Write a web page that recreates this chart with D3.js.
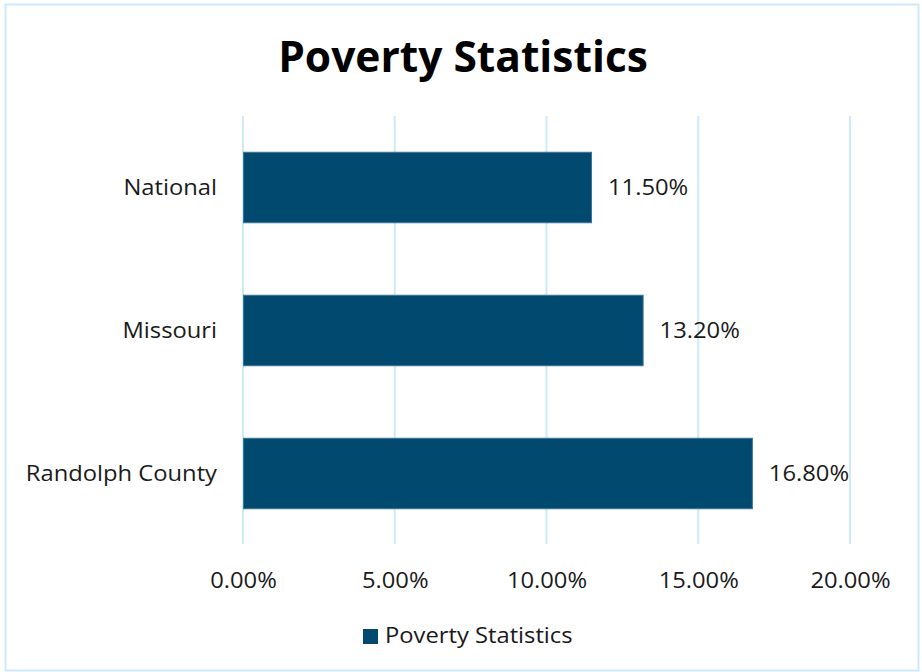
<!DOCTYPE html>
<html>
<head>
<meta charset="utf-8">
<script src="https://cdn.jsdelivr.net/npm/d3@7"></script>
<style>
  html, body { margin: 0; padding: 0; background: #ffffff; }
  svg { display: block; font-family: "Open Sans", "Noto Sans", sans-serif; }
</style>
</head>
<body>
<svg id="chart" width="922" height="672"></svg>
<script>
// Poverty rates by area
const categories = ["National", "Missouri", "Randolph County"];
const povertyRates = [11.5, 13.2, 16.8];
const xTicks = [0, 5, 10, 15, 20];
const seriesName = "Poverty Statistics";
const chartTitle = "Poverty Statistics";

const W = 922, H = 672;
const plot = { left: 243, right: 850, top: 116, bottom: 545 };
const barColor = "#02496f";
const gridColor = "#cdeaf8";
const textColor = "#1a1a1a";
const stretch = 1.08; // label text is set slightly wide

// widen a text element horizontally about its anchor point (ax, ay)
function widen(sel, ax, ay) {
  sel.attr("transform", function(d, i) {
    const px = typeof ax === "function" ? ax(d, i) : ax;
    const py = typeof ay === "function" ? ay(d, i) : ay;
    return `translate(${px},${py}) scale(${stretch},1) translate(${-px},${-py})`;
  });
}

const svg = d3.select("#chart");

// outer frame
svg.append("rect")
  .attr("x", 5.5).attr("y", 4.5)
  .attr("width", W - 9).attr("height", H - 6)
  .attr("fill", "#ffffff")
  .attr("stroke", "#cde9f9").attr("stroke-width", 2);

// title
svg.append("text")
  .attr("x", 463).attr("y", 72)
  .attr("text-anchor", "middle")
  .attr("font-size", 42.5).attr("font-weight", 700)
  .attr("fill", "#000000")
  .text(chartTitle);

const x = d3.scaleLinear().domain([0, 20]).range([plot.left, plot.right]);
const y = d3.scaleBand().domain(categories)
  .range([plot.top, plot.bottom])
  .paddingInner(0.5).paddingOuter(0.25);

// vertical gridlines
svg.append("g").selectAll("line")
  .data(xTicks).join("line")
  .attr("x1", d => x(d)).attr("x2", d => x(d))
  .attr("y1", plot.top).attr("y2", 544)
  .attr("stroke", gridColor).attr("stroke-width", 2);

// x axis tick labels
const xAxis = d3.axisBottom(x)
  .tickValues(xTicks)
  .tickSize(0).tickPadding(0)
  .tickFormat(d => d3.format(".2f")(d) + "%");
const gx = svg.append("g")
  .attr("transform", `translate(0, 588)`)
  .call(xAxis);
gx.select(".domain").remove();
gx.selectAll("text")
  .attr("font-size", 22).attr("fill", textColor)
  .attr("font-family", "Open Sans, Noto Sans, sans-serif")
  .attr("dy", "0")
  .call(widen, 0, 0);

// category labels
const yPad = 26;
const yAxis = d3.axisLeft(y).tickSize(0).tickPadding(yPad);
const gy = svg.append("g")
  .attr("transform", `translate(${plot.left}, 0)`)
  .call(yAxis);
gy.select(".domain").remove();
gy.selectAll("text")
  .attr("font-size", 22).attr("fill", textColor)
  .attr("font-family", "Open Sans, Noto Sans, sans-serif")
  .call(widen, -yPad, 0);

// bars
svg.append("g").selectAll("rect")
  .data(categories).join("rect")
  .attr("x", x(0) + 0.5)
  .attr("y", d => y(d) + 0.5)
  .attr("width", (d, i) => x(povertyRates[i]) - x(0) - 1)
  .attr("height", y.bandwidth() - 1)
  .attr("fill", barColor)
  .attr("stroke", "#3f7396").attr("stroke-width", 1);

// value labels
const labelX = (d, i) => x(povertyRates[i]) + 16;
svg.append("g").selectAll("text")
  .data(categories).join("text")
  .attr("x", labelX)
  .attr("y", d => y(d) + y.bandwidth() / 2)
  .attr("dy", "0.35em")
  .attr("font-size", 22).attr("fill", textColor)
  .text((d, i) => d3.format(".2f")(povertyRates[i]) + "%")
  .call(widen, labelX, 0);

// legend
const legend = svg.append("g").attr("transform", "translate(363, 629)");
legend.append("rect")
  .attr("width", 15).attr("height", 15)
  .attr("fill", barColor);
legend.append("text")
  .attr("x", 22).attr("y", 14)
  .attr("font-size", 22).attr("fill", textColor)
  .text(seriesName)
  .call(widen, 22, 0);
</script>
</body>
</html>
